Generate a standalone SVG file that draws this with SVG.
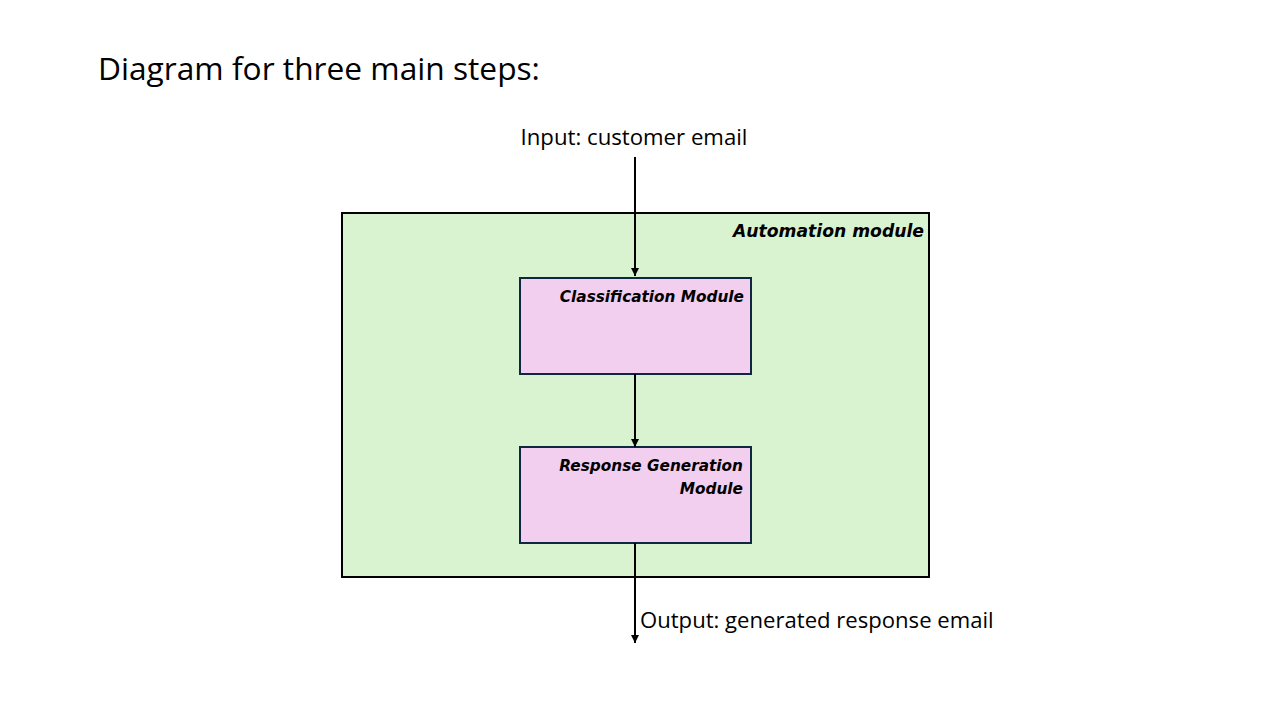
<svg xmlns="http://www.w3.org/2000/svg" width="1280" height="720" viewBox="0 0 1280 720">
<style>
.t{font-family:"Open Sans","Liberation Sans",sans-serif;fill:#000}
.lbl{font-family:"DejaVu Sans","Liberation Sans",sans-serif;font-weight:bold;font-style:italic;fill:#000;text-anchor:end}
.mod{fill:#F2CEEF;stroke:#0E2841;stroke-width:2}
.conn{stroke:#000;stroke-width:2;fill:none;marker-end:url(#ah)}
</style>
<defs>
<marker id="ah" viewBox="0 0 10 10" refX="10" refY="5" markerWidth="4" markerHeight="4" orient="auto" markerUnits="strokeWidth">
<path d="M0,0 L10,5 L0,10 z" fill="#000"/>
</marker>
</defs>
<rect width="1280" height="720" fill="#fff"/>
<text class="t" x="98" y="80" font-size="31.7">Diagram for three main steps:</text>
<g id="automation">
<rect x="342" y="213" width="587" height="364" fill="#D9F2D0" stroke="#000" stroke-width="2"/>
<text class="lbl" x="924" y="237" font-size="17.2">Automation module</text>
</g>
<g id="classification">
<rect class="mod" x="520" y="278" width="231" height="96"/>
<text class="lbl" x="744" y="302" font-size="15.3">Classification Module</text>
</g>
<g id="response">
<rect class="mod" x="520" y="447" width="231" height="96"/>
<text class="lbl" x="743" y="471" font-size="15.3">Response Generation</text>
<text class="lbl" x="743" y="494" font-size="15.3">Module</text>
</g>
<g id="connectors">
<line class="conn" x1="635" y1="157" x2="635" y2="276"/>
<line class="conn" x1="635" y1="374" x2="635" y2="447"/>
<line class="conn" x1="635" y1="543" x2="635" y2="643"/>
</g>
<text class="t" x="634" y="145" font-size="22.2" text-anchor="middle">Input: customer email</text>
<text class="t" x="640" y="628" font-size="22.1">Output: generated response email</text>
</svg>
